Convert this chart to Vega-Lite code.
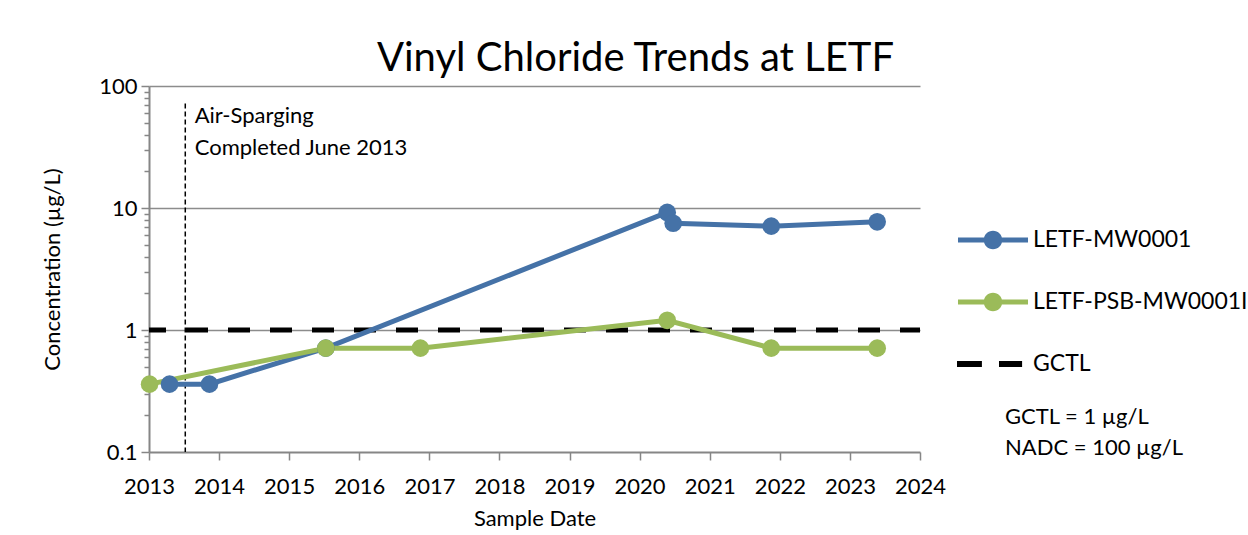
{
  "$schema": "https://vega.github.io/schema/vega-lite/v6.json",
  "autosize": "none",
  "width": 771,
  "height": 366,
  "padding": {"left": 149, "top": 86, "right": 328, "bottom": 83},
  "background": "white",
  "config": {"font": "Lato", "view": {"stroke": null}},
  "title": {
    "text": "Vinyl Chloride Trends at LETF",
    "font": "Lato",
    "fontSize": 40,
    "fontWeight": "normal",
    "color": "black",
    "anchor": "middle",
    "baseline": "alphabetic",
    "dx": 101,
    "dy": 52,
    "offset": 16
  },
  "datasets": {
    "wells": [
      {"date": "2013-04-18T00:00:00Z", "value": 0.36, "well": "LETF-MW0001"},
      {"date": "2013-11-12T00:00:00Z", "value": 0.36, "well": "LETF-MW0001"},
      {"date": "2015-07-11T00:00:00Z", "value": 0.71, "well": "LETF-MW0001"},
      {"date": "2020-05-24T00:00:00Z", "value": 9.2, "well": "LETF-MW0001"},
      {"date": "2020-06-24T00:00:00Z", "value": 7.5, "well": "LETF-MW0001"},
      {"date": "2021-11-17T00:00:00Z", "value": 7.1, "well": "LETF-MW0001"},
      {"date": "2023-05-23T00:00:00Z", "value": 7.7, "well": "LETF-MW0001"},
      {"date": "2013-01-04T00:00:00Z", "value": 0.36, "well": "LETF-PSB-MW0001I"},
      {"date": "2015-07-11T00:00:00Z", "value": 0.71, "well": "LETF-PSB-MW0001I"},
      {"date": "2016-11-15T00:00:00Z", "value": 0.71, "well": "LETF-PSB-MW0001I"},
      {"date": "2020-05-24T00:00:00Z", "value": 1.2, "well": "LETF-PSB-MW0001I"},
      {"date": "2021-11-17T00:00:00Z", "value": 0.71, "well": "LETF-PSB-MW0001I"},
      {"date": "2023-05-23T00:00:00Z", "value": 0.71, "well": "LETF-PSB-MW0001I"}
    ],
    "gctl": [{"value": 1, "well": "GCTL"}]
  },
  "layer": [
    {
      "data": {"values": [{}]},
      "mark": {"type": "rule", "color": "black", "strokeWidth": 1.5, "strokeDash": [5, 3]},
      "encoding": {
        "x": {"datum": {"year": 2013, "month": 7, "date": 9, "utc": true}, "type": "temporal"},
        "y": {"datum": 72, "type": "quantitative"},
        "y2": {"datum": 0.1}
      }
    },
    {
      "data": {"values": [{}]},
      "mark": {
        "type": "text",
        "text": ["Air-Sparging", "Completed June 2013"],
        "align": "left",
        "baseline": "alphabetic",
        "font": "Lato",
        "fontSize": 22,
        "lineHeight": 32,
        "color": "black"
      },
      "encoding": {
        "x": {"datum": {"year": 2013, "month": 8, "date": 27, "utc": true}, "type": "temporal"},
        "y": {"datum": 49.7, "type": "quantitative"}
      }
    },
    {
      "data": {"name": "gctl"},
      "mark": {"type": "rule", "strokeWidth": 5, "strokeDash": [22, 20], "strokeDashOffset": 2},
      "encoding": {
        "y": {"field": "value", "type": "quantitative"},
        "color": {"field": "well", "type": "nominal"}
      }
    },
    {
      "data": {"name": "wells"},
      "mark": {"type": "line", "strokeWidth": 5},
      "encoding": {
        "x": {
          "field": "date",
          "type": "temporal",
          "scale": {"type": "utc", "domain": [{"year": 2013, "utc": true}, {"year": 2024, "utc": true}], "nice": false},
          "axis": {
            "title": "Sample Date",
            "titleFont": "Lato",
            "titleFontSize": 22,
            "titleFontWeight": "normal",
            "titleColor": "black",
            "titlePadding": 11,
            "format": "%Y",
            "values": [
              {"year": 2013, "utc": true}, {"year": 2014, "utc": true}, {"year": 2015, "utc": true},
              {"year": 2016, "utc": true}, {"year": 2017, "utc": true}, {"year": 2018, "utc": true},
              {"year": 2019, "utc": true}, {"year": 2020, "utc": true}, {"year": 2021, "utc": true},
              {"year": 2022, "utc": true}, {"year": 2023, "utc": true}, {"year": 2024, "utc": true}
            ],
            "labelFont": "Lato",
            "labelFontSize": 22,
            "labelColor": "black",
            "labelPadding": 16,
            "labelFlush": false,
            "labelOverlap": false,
            "tickSize": 8,
            "tickColor": "#868686",
            "tickWidth": 1.5,
            "domainColor": "#868686",
            "domainWidth": 2,
            "grid": false
          }
        },
        "y": {
          "field": "value",
          "type": "quantitative",
          "scale": {"type": "log", "domain": [0.1, 100], "nice": false},
          "axis": {
            "title": "Concentration (µg/L)",
            "titleFont": "Lato",
            "titleFontSize": 22,
            "titleFontWeight": "normal",
            "titleColor": "black",
            "titlePadding": 34,
            "values": [0.1, 0.2, 0.3, 0.4, 0.5, 0.6, 0.7, 0.8, 0.9, 1, 2, 3, 4, 5, 6, 7, 8, 9, 10, 20, 30, 40, 50, 60, 70, 80, 90, 100],
            "labelExpr": "datum.value == 0.1 ? '0.1' : datum.value == 1 ? '1' : datum.value == 10 ? '10' : datum.value == 100 ? '100' : ''",
            "labelFont": "Lato",
            "labelFontSize": 22,
            "labelColor": "black",
            "labelPadding": 4,
            "labelOverlap": false,
            "labelFlush": false,
            "tickSize": {"condition": {"test": "datum.value == 0.1 || datum.value == 1 || datum.value == 10 || datum.value == 100", "value": 8}, "value": 5},
            "tickColor": "#868686",
            "tickWidth": 1.5,
            "domainColor": "#868686",
            "domainWidth": 2,
            "grid": true,
            "gridColor": "#8c8c8c",
            "gridWidth": 1.5,
            "gridOpacity": {"condition": {"test": "datum.value == 1 || datum.value == 10 || datum.value == 100", "value": 1}, "value": 0}
          }
        },
        "color": {
          "field": "well",
          "type": "nominal",
          "scale": {"domain": ["LETF-MW0001", "LETF-PSB-MW0001I", "GCTL"], "range": ["#4572A7", "#9BBB59", "#000000"]},
          "legend": {
            "orient": "none",
            "legendX": 814,
            "legendY": 124,
            "padding": 0,
            "symbolSize": 3600,
            "rowPadding": 20,
            "labelFont": "Lato",
            "labelFontSize": 23,
            "labelColor": "black",
            "labelOffset": 10,
            "labelLimit": 400,
            "title": ["GCTL = 1 µg/L", "NADC = 100 µg/L"],
            "titleOrient": "bottom",
            "titleFont": "Lato",
            "titleFontSize": 22,
            "titleFontWeight": "normal",
            "titleColor": "black",
            "titleLineHeight": 31,
            "titlePadding": 31,
            "titleLimit": 400,
            "encode": {
              "symbols": {
                "update": {
                  "shape": {"signal": "datum.value === 'GCTL' ? 'M-1.2,-0.1 L-0.37,-0.1 L-0.37,0.1 L-1.2,0.1 Z M0.2,-0.1 L0.97,-0.1 L0.97,0.1 L0.2,0.1 Z' : 'M-1.167,-0.085 L1.167,-0.085 L1.167,0.085 L-1.167,0.085 Z M-0.31,0 A0.31,0.31 0 1,1 0.31,0 A0.31,0.31 0 1,1 -0.31,0 Z'"},
                  "fill": {"scale": "color", "field": "value"},
                  "stroke": {"value": "transparent"},
                  "strokeWidth": {"value": 0},
                  "opacity": {"value": 1},
                  "fillOpacity": {"value": 1}
                }
              },
              "title": {"update": {"dx": {"value": 42}}}
            }
          }
        }
      }
    },
    {
      "data": {"name": "wells"},
      "mark": {"type": "point", "shape": "circle", "filled": true, "size": 310, "opacity": 1},
      "encoding": {
        "x": {"field": "date", "type": "temporal"},
        "y": {"field": "value", "type": "quantitative"},
        "color": {"field": "well", "type": "nominal"}
      }
    }
  ]
}
